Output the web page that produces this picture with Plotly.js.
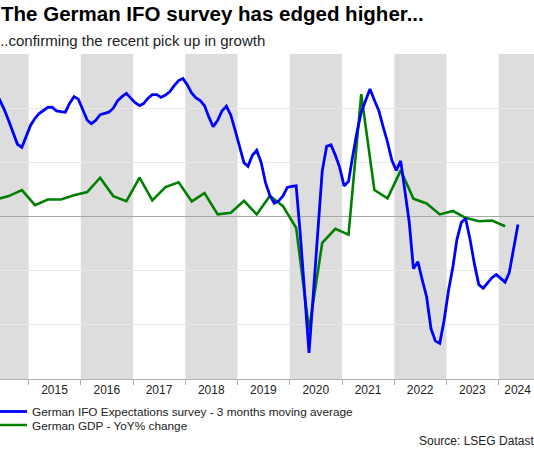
<!DOCTYPE html>
<html>
<head>
<meta charset="utf-8">
<script src="https://cdn.plot.ly/plotly-3.0.1.min.js"></script>
<style>
  html, body { margin: 0; padding: 0; background: #fff; }
  #chart { width: 534px; height: 449px; }
</style>
</head>
<body>
<div id="chart"></div>
<script>
// ---------- data ----------
const titleText = "The German IFO survey has edged higher...";
const subtitleText = "...confirming the recent pick up in growth";
const sourceText = "Source: LSEG Datastream";

const ifoName = "German IFO Expectations survey - 3 months moving average";
const gdpName = "German GDP - YoY% change";

const yearLabels = [2015, 2016, 2017, 2018, 2019, 2020, 2021, 2022, 2023, 2024];
const shadedYears = [2014, 2016, 2018, 2020, 2022, 2024];

// IFO expectations, 3-month moving average, monthly from May 2014
const ifoStart = [2014, 5];
const ifo2014 = [103.12, 102.17, 101.18, 100.02, 98.71, 97.56, 97.24, 98.29];
const ifo2015 = [99.55, 100.28, 100.76, 101.09, 101.41, 101.44, 101.04, 100.97, 100.91, 101.86, 102.54, 102.28];
const ifo2016 = [101.23, 100.07, 99.71, 100.07, 100.65, 100.78, 100.91, 101.33, 102.12, 102.54, 102.88, 102.38];
const ifo2017 = [101.91, 101.60, 101.81, 102.38, 102.75, 102.75, 102.46, 102.70, 103.07, 103.69, 104.22, 104.43];
const ifo2018 = [103.75, 102.91, 102.44, 102.12, 101.60, 100.39, 99.39, 100.07, 101.07, 101.54, 100.60, 99.03];
const ifo2019 = [97.45, 95.62, 95.25, 96.40, 96.93, 95.67, 93.57, 92.20, 91.37, 91.63, 92.15, 93.04];
const ifo2020 = [93.15, 93.20, 88.11, 81.50, 75.73, 82.13, 88.43, 94.72, 97.35, 97.50, 96.40, 95.14];
const ifo2021 = [93.20, 93.67, 96.19, 98.82, 100.91, 102.17, 103.33, 102.17, 101.07, 99.39, 97.77, 95.88];
const ifo2022 = [94.83, 95.82, 92.62, 89.48, 84.54, 85.28, 83.39, 81.61, 78.25, 76.99, 76.73, 79.09];
const ifo2023 = [82.24, 84.75, 87.59, 89.37, 89.79, 87.59, 85.07, 82.87, 82.50, 83.02, 83.60, 83.92];
const ifo2024 = [83.50, 83.13, 84.12, 86.54, 89.16];

// German GDP YoY %, quarterly from 2014 Q2
const gdpStart = [2014, 2];
const gdpValues = [1.56, 1.88, 2.44,
  1.05, 1.57, 1.57, 1.97,
  2.25, 3.58, 1.88, 1.42,
  3.58, 1.48, 2.71, 3.15,
  1.39, 2.16, 0.20, 0.34,
  1.44, 0.19, 1.90, 0.95,
  -1.05, -10.46, -2.44, -1.14,
  -1.67, 11.30, 2.44, 1.67,
  4.26, 1.64, 1.20, 0.19,
  0.51, -0.12, -0.44, -0.37,
  -0.90];

// ---------- build ----------
const pad = n => (n < 10 ? "0" : "") + n;
const ifoValues = [].concat(ifo2014, ifo2015, ifo2016, ifo2017, ifo2018, ifo2019,
                            ifo2020, ifo2021, ifo2022, ifo2023, ifo2024);
const ifoDates = ifoValues.map((v, i) => {
  const k = ifoStart[0] * 12 + (ifoStart[1] - 1) + i;
  return Math.floor(k / 12) + "-" + pad(k % 12 + 1) + "-15";
});
const gdpDates = gdpValues.map((v, i) => {
  const k = gdpStart[0] * 4 + (gdpStart[1] - 1) + i;
  const y = Math.floor(k / 4), q = k % 4;
  return y + "-" + pad(q * 3 + 2) + "-15";
});

const FONT = "Liberation Sans, Arial, sans-serif";

const traces = [
  {
    x: gdpDates, y: gdpValues, name: gdpName, type: "scatter", mode: "lines",
    line: { color: "rgb(0,128,0)", width: 2.6 }, yaxis: "y", legend: "legend2",
    hoverinfo: "skip"
  },
  {
    x: ifoDates, y: ifoValues, name: ifoName, type: "scatter", mode: "lines",
    line: { color: "rgb(0,0,255)", width: 2.8 }, yaxis: "y2", legend: "legend",
    hoverinfo: "skip"
  }
];

const shapes = shadedYears.map(y => ({
  type: "rect", xref: "x", yref: "paper",
  x0: y + "-01-01", x1: (y + 1) + "-01-01", y0: 0, y1: 1,
  fillcolor: "#dddddd", line: { width: 0 }, layer: "below"
}));

const tickvals = yearLabels.map(y => (y === 2024 ? "2024-05-12" : y + "-07-01"));

const layout = {
  width: 534, height: 449,
  margin: { l: 0, r: 0, t: 54, b: 70, autoexpand: false },
  paper_bgcolor: "#ffffff", plot_bgcolor: "#ffffff",
  font: { family: FONT, size: 12, color: "#222" },
  showlegend: true,
  title: {
    text: titleText, xref: "paper", x: 0.002, xanchor: "left",
    yref: "container", y: 1 - 14 / 449, yanchor: "middle",
    font: { family: FONT, size: 20.5, color: "#000", weight: "bold" }
  },
  xaxis: {
    type: "date", range: ["2014-06-15", "2024-09-04"],
    showgrid: false, zeroline: false,
    showline: true, linecolor: "#b0b0b0", linewidth: 1,
    tickvals: tickvals, ticktext: yearLabels.map(String), ticks: "",
    tickfont: { family: FONT, size: 12, color: "#222" },
    minor: { dtick: "M12", tick0: "2015-01-01", ticks: "outside", ticklen: 5,
             tickcolor: "#b0b0b0", showgrid: false },
    automargin: false, fixedrange: true
  },
  yaxis: {
    range: [-15, 15], dtick: 5, showticklabels: false, ticks: "",
    showgrid: true, gridcolor: "#e8e8e8", gridwidth: 1,
    zeroline: true, zerolinecolor: "#a8a8a8", zerolinewidth: 1,
    showline: false, automargin: false, fixedrange: true
  },
  yaxis2: {
    overlaying: "y", side: "right", range: [73, 107], visible: false, fixedrange: true
  },
  legend: {
    x: -0.015, xanchor: "left", y: (379 - 411.5) / 325, yanchor: "middle",
    bgcolor: "rgba(0,0,0,0)", font: { family: FONT, size: 11.8, color: "#222" },
    itemwidth: 30
  },
  legend2: {
    x: -0.015, xanchor: "left", y: (379 - 425) / 325, yanchor: "middle",
    bgcolor: "rgba(0,0,0,0)", font: { family: FONT, size: 11.8, color: "#222" },
    itemwidth: 30
  },
  shapes: shapes,
  annotations: [
    {
      text: subtitleText, showarrow: false, xref: "paper", yref: "paper",
      x: -0.012, xanchor: "left", y: (379 - 40) / 325, yanchor: "middle",
      font: { family: FONT, size: 15, color: "#222" }
    },
    {
      text: sourceText, showarrow: false, xref: "paper", yref: "paper",
      x: 417 / 534, xanchor: "left", y: (379 - 441) / 325, yanchor: "middle",
      font: { family: FONT, size: 12, color: "#222" }
    }
  ]
};

Plotly.newPlot("chart", traces, layout, { displayModeBar: false, staticPlot: true });
</script>
</body>
</html>
